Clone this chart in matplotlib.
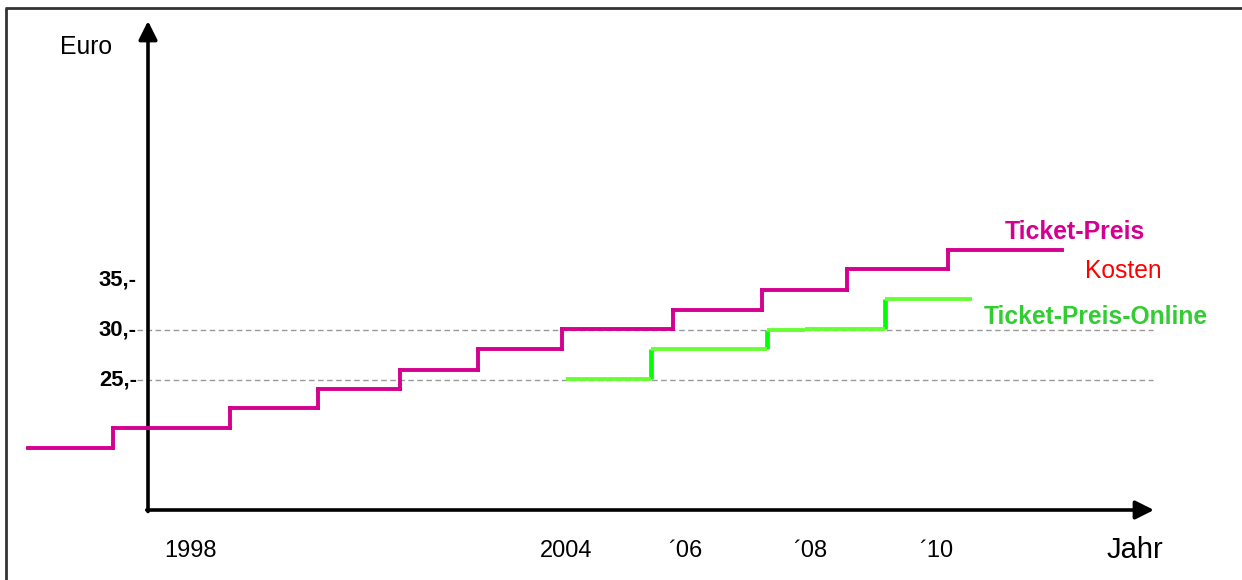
import matplotlib
matplotlib.use("Agg")
import matplotlib.pyplot as plt

plt.rcParams['font.family'] = ['Liberation Sans', 'DejaVu Sans']

# ---- data ----
ticket_breaks = [1995.42, 1996.77, 1998.64, 2000.04, 2001.35, 2002.60,
                 2003.94, 2005.71, 2007.13, 2008.48, 2010.10, 2011.91]
ticket_prices = [18.2, 20.2, 22.2, 24.1, 26.0, 28.1, 30.1, 32.0, 34.0, 36.1, 38.0]

online_breaks = [2004.0, 2005.36, 2007.21, 2007.81, 2009.09, 2010.48]
online_prices = [25.1, 28.1, 30.0, 30.1, 33.1]

ytick_vals = [35, 30, 25]
ytick_labels = ["35,-", "30,-", "25,-"]
grid_vals = [30, 25]

xtick_pos = [1998, 2004, 2005.9, 2007.9, 2009.9]
xtick_labels = ["1998", "2004", "\u00b406", "\u00b408", "\u00b410"]

MAGENTA = '#D4008F'
GREEN_H = '#66FF33'
GREEN_V = '#00FF00'
GREEN_T = '#33CC33'

W, H = 1242, 580
fig = plt.figure(figsize=(W / 100, H / 100), dpi=100)
ax = fig.add_axes([0, 0, 1, 1])

# pixel <-> data mapping (axes fill the figure)
X0, PXY = 1998.0, 62.67   # year at px 190, px per year
def px_x(px):
    return X0 + (px - 190) / PXY
def px_y(py):
    return 30 - (py - 330) / 10.0

ax.set_xlim(px_x(0), px_x(W))
ax.set_ylim(px_y(H), px_y(0))
ax.axis('off')

lw = 2.8

# frame (top + left)
ax.plot([px_x(5), px_x(W)], [px_y(8), px_y(8)], color='#333333', lw=2.0, solid_capstyle='butt')
ax.plot([px_x(6), px_x(6)], [px_y(8), px_y(H)], color='#333333', lw=2.0, solid_capstyle='butt')

# grid lines
for g in grid_vals:
    ax.plot([px_x(137), px_x(1153)], [g, g], color='#999999', lw=1.0,
            ls=(0, (4, 2.5)), zorder=1)

# axes with arrows
ax_x, ax_y = px_x(148), px_y(510)
ax.annotate('', xy=(ax_x, px_y(21)), xytext=(ax_x, ax_y - 0.15),
            arrowprops=dict(arrowstyle='-|>', lw=2.6, color='black',
                            mutation_scale=28, shrinkA=0, shrinkB=0), zorder=2)
ax.annotate('', xy=(px_x(1154), ax_y), xytext=(ax_x - 0.02, ax_y),
            arrowprops=dict(arrowstyle='-|>', lw=2.6, color='black',
                            mutation_scale=28, shrinkA=0, shrinkB=0), zorder=2)

# ticket price steps
for i, v in enumerate(ticket_prices):
    ax.plot([ticket_breaks[i], ticket_breaks[i + 1]], [v, v], color=MAGENTA,
            lw=lw, solid_capstyle='projecting', zorder=4)
for i in range(1, len(ticket_prices)):
    ax.plot([ticket_breaks[i], ticket_breaks[i]], [ticket_prices[i - 1], ticket_prices[i]],
            color=MAGENTA, lw=lw, solid_capstyle='projecting', zorder=4)

# online price steps
for i in range(1, len(online_prices)):
    if abs(online_prices[i] - online_prices[i - 1]) > 0.5:
        ax.plot([online_breaks[i], online_breaks[i]], [online_prices[i - 1], online_prices[i]],
                color=GREEN_V, lw=lw + 0.6, solid_capstyle='butt', zorder=4)
for i, v in enumerate(online_prices):
    ax.plot([online_breaks[i], online_breaks[i + 1]], [v, v], color=GREEN_H,
            lw=lw, solid_capstyle='butt', zorder=5)

# y tick labels
for v, lab in zip(ytick_vals, ytick_labels):
    ax.text(px_x(137), v, lab, ha='right', va='center', fontsize=15.8,
            fontweight='bold', color='black')

# x tick labels
for p, lab in zip(xtick_pos, xtick_labels):
    ax.text(p, px_y(551), lab, ha='center', va='center', fontsize=17, color='black')

# axis titles
ax.text(px_x(86), px_y(47), 'Euro', ha='center', va='center', fontsize=17.8)
ax.text(px_x(1135), px_y(550), 'Jahr', ha='center', va='center', fontsize=21)

# series labels
ax.text(px_x(1075), px_y(232), 'Ticket-Preis', ha='center', va='center',
        fontsize=17.9, fontweight='bold', color=MAGENTA)
ax.text(px_x(1123), px_y(271), 'Kosten', ha='center', va='center',
        fontsize=17.7, color='#FF0000')
ax.text(px_x(1096), px_y(317), 'Ticket-Preis-Online', ha='center', va='center',
        fontsize=17.7, fontweight='bold', color=GREEN_T)

fig.savefig('out.png', dpi=100)
